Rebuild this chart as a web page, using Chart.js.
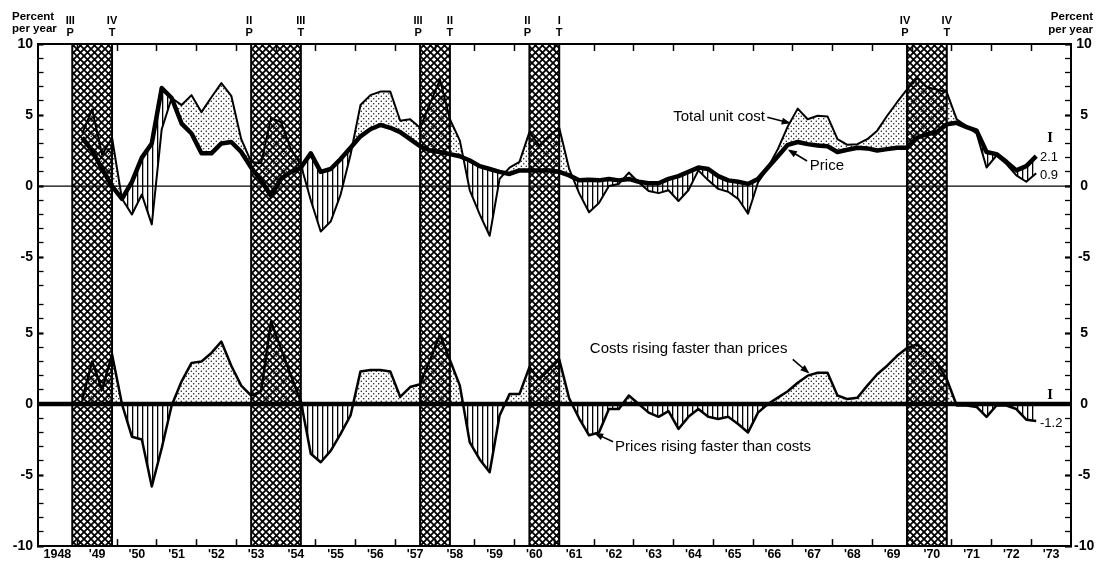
<!DOCTYPE html>
<html>
<head>
<meta charset="utf-8">
<script src="https://cdn.jsdelivr.net/npm/chart.js@4.4.0/dist/chart.umd.min.js"></script>
<style>
  html, body { margin: 0; padding: 0; background: #fff; }
</style>
</head>
<body>
<canvas id="chart" width="1097" height="565"></canvas>
<script>
// quarterly rates of change, percent per year, 1949 I .. 1973 I
const firstYear = 1949;
const unitCost = [
  3.7, 5.4, 2.2, 3.4,   -0.9, -2.0, -0.6, -2.7,   4.0, 6.2, 5.7, 6.4,   5.2, 6.25, 7.25, 6.35,
  3.3, 1.7, 1.6, 4.8,   4.5, 2.6, 1.5, -1.0,   -3.2, -2.5, -0.6, 2.2,   5.7, 6.4, 6.65, 6.65,
  4.6, 4.7, 4.1, 5.8,   7.5, 4.7, 3.2, -0.3,   -2.0, -3.5, 0.5, 1.3,   1.7, 3.8, 2.85, 3.55,
  4.1, 1.2, -0.5, -1.85,   -1.2, 0.0, 0.15, 0.95,   0.25, -0.35, -0.5, -0.3,   -1.05, -0.3, 1.1, 0.4,
  -0.2, -0.4, -0.9, -1.95,   0.25, 1.3, 2.6, 4.2,   5.45, 4.7, 4.95, 4.9,   3.3, 2.9, 2.95, 3.3,
  3.9, 4.95, 5.9, 6.8,   7.6, 6.95, 6.8, 6.6,   4.7, 4.2, 3.7, 1.3,   2.15, 1.55, 0.75, 0.3,
  0.9
];
const price = [
  3.4, 2.5, 1.2, 0.0,   -0.9, 0.3, 2.0, 3.0,   6.9, 6.2, 4.4, 3.7,   2.3, 2.3, 3.0, 3.1,
  2.4, 1.3, 0.4, -0.7,   0.5, 1.0, 1.3, 2.3,   1.0, 1.2, 1.9, 2.7,   3.5, 4.0, 4.3, 4.1,
  3.8, 3.3, 2.8, 2.5,   2.4, 2.25, 2.1, 1.8,   1.4, 1.2, 1.0, 0.85,   1.1, 1.1, 1.1, 1.1,
  1.0, 0.75, 0.4, 0.45,   0.4, 0.5, 0.4, 0.5,   0.3, 0.2, 0.2, 0.5,   0.7, 1.0, 1.3, 1.2,
  0.7, 0.4, 0.3, 0.15,   0.5, 1.3, 2.1, 2.9,   3.1, 2.95, 2.85, 2.8,   2.4, 2.55, 2.7, 2.65,
  2.5, 2.6, 2.7, 2.7,   3.4, 3.65, 3.8, 4.35,   4.45, 4.15, 3.9, 2.4,   2.25, 1.7, 1.1, 1.4,
  2.1
];
const costMinusPrice = [
  0.3, 3.0, 1.0, 3.5,   0.0, -2.3, -2.5, -5.8,   -3.1, -0.1, 1.6, 2.9,   3.0, 3.6, 4.4, 2.7,
  1.3, 0.6, 0.9, 5.8,   3.9, 2.0, 0.2, -3.5,   -4.1, -3.3, -2.1, -0.8,   2.3, 2.4, 2.4, 2.3,
  0.5, 1.2, 1.4, 3.1,   4.9, 3.1, 1.3, -2.7,   -3.9, -4.8, -0.8, 0.7,   0.7, 2.6, 1.75, 2.45,
  3.15, 0.4, -1.0, -2.2,   -2.0, -0.35, -0.35, 0.6,   0.0, -0.6, -0.9, -0.5,   -1.75, -0.9, -0.35, -0.9,
  -1.05, -0.9, -1.4, -2.0,   -0.6, 0.0, 0.45, 0.9,   1.5, 2.0, 2.2, 2.2,   0.6, 0.35, 0.45, 1.3,
  2.1, 2.7, 3.4, 3.95,   4.2, 3.6, 2.9, 1.75,   -0.1, -0.1, -0.2, -0.9,   -0.1, -0.1, -0.35, -1.1,
  -1.2
];

const yearLabels = ["1948", "'49", "'50", "'51", "'52", "'53", "'54", "'55", "'56", "'57", "'58", "'59", "'60",
  "'61", "'62", "'63", "'64", "'65", "'66", "'67", "'68", "'69", "'70", "'71", "'72", "'73"];

// business cycle peaks (P) and troughs (T), as dates in years
const recessionPeaks = [1948.875, 1953.375, 1957.625, 1960.375, 1969.875];
const recessionTroughs = [1949.875, 1954.625, 1958.375, 1961.125, 1970.875];
const peakQuarters = ["III", "II", "III", "II", "IV"];
const troughQuarters = ["IV", "III", "II", "I", "IV"];

// the lower panel shares the axis, shifted down
const BOTTOM_ZERO = -15.35;
const PANEL_SPLIT = -7.6;

const quarterTimes = unitCost.map((_, i) => firstYear + (i + 0.5) / 4);
const pts = arr => arr.map((v, i) => ({ x: quarterTimes[i], y: v }));

function makePattern(w, h, draw) {
  const c = document.createElement('canvas');
  c.width = w; c.height = h;
  const g = c.getContext('2d');
  draw(g);
  return g.createPattern(c, 'repeat');
}
const crossHatch = makePattern(7, 7, g => {
  g.fillStyle = '#fff'; g.fillRect(0, 0, 7, 7);
  g.strokeStyle = '#000'; g.lineWidth = 1.8;
  g.beginPath();
  g.moveTo(-1, -1); g.lineTo(8, 8);
  g.moveTo(8, -1); g.lineTo(-1, 8);
  g.stroke();
});
const stipple = makePattern(5, 5, g => {
  g.fillStyle = '#000';
  g.beginPath(); g.arc(1.25, 1.25, 0.7, 0, Math.PI * 2); g.fill();
  g.beginPath(); g.arc(3.75, 3.75, 0.7, 0, Math.PI * 2); g.fill();
});
const vHatch = makePattern(5, 4, g => {
  g.fillStyle = '#000'; g.fillRect(2, 0, 1.3, 4);
});

const topTicks = [];
for (let v = 10; v >= -7; v--) topTicks.push(v);
const bottomTicks = [];
for (let v = 7; v >= -10; v--) bottomTicks.push(v + BOTTOM_ZERO);

function yLabel(value) {
  const v = value > PANEL_SPLIT ? value : value - BOTTOM_ZERO;
  const r = Math.round(v);
  return r % 5 === 0 ? String(r) : '';
}

const yearTicks = [];
for (let y = 1949; y <= 1973; y++) yearTicks.push(y);
const labelTicks = yearLabels.map((_, i) => 1948.5 + i);

const tickFont = { family: 'Liberation Sans', size: 14, weight: 'bold' };

function yScale(position, pad, align) {
  return {
    type: 'linear', position, min: BOTTOM_ZERO - 10, max: 10,
    afterBuildTicks: s => { s.ticks = topTicks.concat(bottomTicks).map(v => ({ value: v })); },
    afterFit: s => { s.width = position === 'left' ? 37.5 : 26; },
    ticks: { autoSkip: false, padding: pad, crossAlign: align, color: '#000', font: tickFont, callback: v => yLabel(v) },
    grid: { drawOnChartArea: false, tickLength: -6, tickColor: '#000',
      tickWidth: c => (yLabel(c.tick.value) !== '' ? 2.2 : 1.3) },
    border: { color: '#000', width: 2 }
  };
}

function arrow(ctx, x0, y0, x1, y1) {
  const a = Math.atan2(y1 - y0, x1 - x0);
  ctx.beginPath(); ctx.moveTo(x0, y0); ctx.lineTo(x1, y1); ctx.stroke();
  ctx.beginPath();
  ctx.moveTo(x1 + 2 * Math.cos(a), y1 + 2 * Math.sin(a));
  ctx.lineTo(x1 - 7 * Math.cos(a) + 3.5 * Math.sin(a), y1 - 7 * Math.sin(a) - 3.5 * Math.cos(a));
  ctx.lineTo(x1 - 7 * Math.cos(a) - 3.5 * Math.sin(a), y1 - 7 * Math.sin(a) + 3.5 * Math.cos(a));
  ctx.closePath(); ctx.fill();
}

const notes = [
  { text: 'Total unit cost', x: 1966.30, y: 4.9, align: 'right' },
  { text: 'Price', x: 1967.43, y: 1.4, align: 'left' },
  { text: 'Costs rising faster than prices', x: 1964.38, y: 3.9 + BOTTOM_ZERO, align: 'center' },
  { text: 'Prices rising faster than costs', x: 1962.53, y: -3.0 + BOTTOM_ZERO, align: 'left' }
];
const pointers = [
  [1966.36, 4.85, 1966.90, 4.45],
  [1967.36, 1.76, 1966.92, 2.5],
  [1967.0, 3.15 + BOTTOM_ZERO, 1967.38, 2.24 + BOTTOM_ZERO],
  [1962.48, -2.66 + BOTTOM_ZERO, 1962.05, -2.1 + BOTTOM_ZERO]
];
const endNotes = [
  { text: '2.1', x: 1973.22, y: 2.04, align: 'left' },
  { text: '0.9', x: 1973.22, y: 0.77, align: 'left' },
  { text: '-1.2', x: 1973.22, y: -1.33 + BOTTOM_ZERO, align: 'left' }
];
const quarterMarks = [
  { x: 1973.47, y: 3.3 },
  { x: 1973.47, y: 0.56 + BOTTOM_ZERO }
];

const decor = {
  id: 'decor',
  beforeDraw(chart) {
    const { ctx, chartArea: a, scales: { x, y } } = chart;
    ctx.save();
    recessionPeaks.forEach((p, k) => {
      const x0 = x.getPixelForValue(p), x1 = x.getPixelForValue(recessionTroughs[k]);
      ctx.fillStyle = crossHatch;
      ctx.fillRect(x0, a.top, x1 - x0, a.bottom - a.top);
      ctx.strokeStyle = '#000'; ctx.lineWidth = 2;
      ctx.beginPath();
      ctx.moveTo(x0, a.top); ctx.lineTo(x0, a.bottom);
      ctx.moveTo(x1, a.top); ctx.lineTo(x1, a.bottom);
      ctx.stroke();
    });
    ctx.strokeStyle = '#000';
    ctx.lineWidth = 1.3;
    ctx.beginPath();
    ctx.moveTo(a.left, y.getPixelForValue(0)); ctx.lineTo(a.right, y.getPixelForValue(0));
    ctx.stroke();
    ctx.lineWidth = 4.5;
    ctx.beginPath();
    ctx.moveTo(a.left, y.getPixelForValue(BOTTOM_ZERO)); ctx.lineTo(a.right, y.getPixelForValue(BOTTOM_ZERO));
    ctx.stroke();
    ctx.restore();
  },
  afterDraw(chart) {
    const { ctx, scales: { x, y } } = chart;
    ctx.save();
    ctx.fillStyle = '#000'; ctx.strokeStyle = '#000';
    ctx.textBaseline = 'middle';

    ctx.font = 'bold 11.5px "Liberation Sans"';
    ctx.textAlign = 'left';
    ctx.fillText('Percent', 12, 17);
    ctx.fillText('per year', 12, 29);
    ctx.textAlign = 'right';
    ctx.fillText('Percent', 1093, 17);
    ctx.fillText('per year', 1093, 30);

    ctx.font = 'bold 11px "Liberation Sans"';
    ctx.textAlign = 'center';
    recessionPeaks.forEach((p, k) => {
      const x0 = x.getPixelForValue(p), x1 = x.getPixelForValue(recessionTroughs[k]);
      ctx.fillText(peakQuarters[k], x0 - 2, 21);
      ctx.fillText('P', x0 - 2, 33);
      ctx.fillText(troughQuarters[k], x1, 21);
      ctx.fillText('T', x1, 33);
    });

    ctx.font = '15px "Liberation Sans"';
    notes.forEach(n => {
      ctx.textAlign = n.align;
      ctx.fillText(n.text, x.getPixelForValue(n.x), y.getPixelForValue(n.y));
    });
    ctx.lineWidth = 1.6;
    pointers.forEach(p => arrow(ctx, x.getPixelForValue(p[0]), y.getPixelForValue(p[1]),
      x.getPixelForValue(p[2]), y.getPixelForValue(p[3])));

    ctx.font = '13px "Liberation Sans"';
    endNotes.forEach(n => {
      ctx.textAlign = n.align;
      ctx.fillText(n.text, x.getPixelForValue(n.x), y.getPixelForValue(n.y));
    });
    ctx.font = 'bold 12px "DejaVu Serif"';
    ctx.textAlign = 'center';
    quarterMarks.forEach(m => ctx.fillText('I', x.getPixelForValue(m.x), y.getPixelForValue(m.y)));
    ctx.restore();
  }
};

Chart.defaults.font.family = 'Liberation Sans';

new Chart(document.getElementById('chart'), {
  type: 'line',
  data: {
    datasets: [
      { label: 'Total unit cost', data: pts(unitCost), borderColor: '#000', borderWidth: 2,
        borderJoinStyle: 'round', pointRadius: 0, tension: 0, order: 1,
        fill: { target: 1, above: stipple, below: vHatch } },
      { label: 'Price', data: pts(price), borderColor: '#000', borderWidth: 4.5,
        borderJoinStyle: 'round', pointRadius: 0, tension: 0, order: 0, fill: false },
      { label: 'Costs less prices', data: pts(costMinusPrice.map(v => v + BOTTOM_ZERO)),
        borderColor: '#000', borderWidth: 2.5, borderJoinStyle: 'round', pointRadius: 0, tension: 0, order: 2,
        fill: { value: BOTTOM_ZERO, above: stipple, below: vHatch } }
    ]
  },
  options: {
    responsive: false,
    animation: false,
    layout: { padding: { top: 44, left: 0, right: 0, bottom: 0 } },
    plugins: {
      legend: { display: false },
      tooltip: { enabled: false },
      filler: { drawTime: 'beforeDatasetsDraw' }
    },
    scales: {
      x: {
        type: 'linear', position: 'bottom', min: 1948, max: 1974,
        afterBuildTicks: s => { s.ticks = yearTicks.concat(labelTicks).sort((a, b) => a - b).map(v => ({ value: v })); },
        afterFit: s => { s.height = 17; },
        ticks: { autoSkip: false, maxRotation: 0, minRotation: 0, padding: 8, color: '#000',
          font: { family: 'Liberation Sans', size: 12.5, weight: 'bold' },
          callback: v => (Number.isInteger(v) ? '' : yearLabels[Math.floor(v) - 1948]) },
        grid: { drawOnChartArea: false, tickLength: -7, tickWidth: 1.5,
          tickColor: c => (Number.isInteger(c.tick.value) ? '#000' : 'rgba(0,0,0,0)') },
        border: { color: '#000', width: 2 }
      },
      x2: {
        type: 'linear', axis: 'x', position: 'top', min: 1948, max: 1974,
        afterBuildTicks: s => { s.ticks = yearTicks.map(v => ({ value: v })); },
        afterFit: s => { s.height = 0; },
        ticks: { display: false },
        grid: { drawOnChartArea: false, tickLength: -7, tickWidth: 1.5, tickColor: '#000' },
        border: { color: '#000', width: 2 }
      },
      y: yScale('left', 10.5, 'near'),
      y2: yScale('right', 9, 'center')
    }
  },
  plugins: [decor]
});
</script>
</body>
</html>
